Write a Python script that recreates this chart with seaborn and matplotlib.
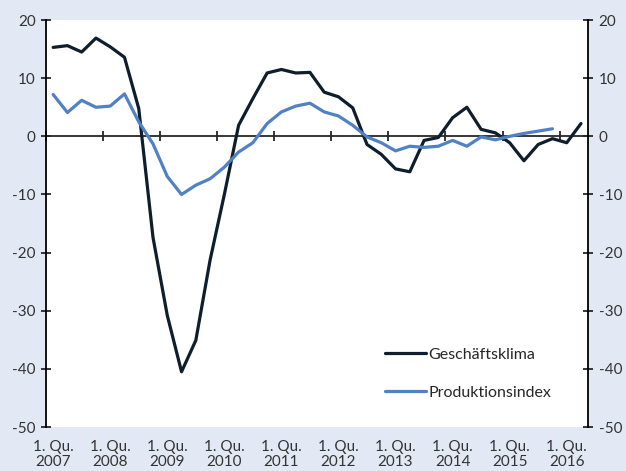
import numpy as np
import pandas as pd
import matplotlib
matplotlib.use("Agg")
import matplotlib.pyplot as plt
import seaborn as sns

# quarterly values, 1. Qu. 2007 - 2. Qu. 2016
years = list(range(2007, 2017))
quarters = [f"{q}. Qu. {y}" for y in years for q in range(1, 5)][:38]

geschaeftsklima = [15.3, 15.6, 14.5, 16.9, 15.4, 13.6, 4.8, -17.4, -30.8, -40.5,
                   -35.1, -21.3, -10.0, 1.9, 6.5, 10.9, 11.5, 10.9, 11.0, 7.6,
                   6.8, 4.9, -1.4, -3.1, -5.6, -6.1, -0.7, -0.2, 3.2, 5.0,
                   1.2, 0.6, -1.1, -4.2, -1.4, -0.4, -1.1, 2.2]
produktionsindex = [7.2, 4.1, 6.2, 5.0, 5.2, 7.3, 2.5, -1.3, -6.9, -10.0,
                    -8.4, -7.3, -5.3, -2.7, -1.1, 2.2, 4.2, 5.2, 5.7, 4.2,
                    3.5, 1.9, -0.1, -1.1, -2.5, -1.7, -1.9, -1.7, -0.7, -1.7,
                    -0.1, -0.6, 0.0, 0.5, 0.9, 1.3]

tick_labels = [f"1. Qu.\n{y}" for y in years]
y_ticks = [20, 10, 0, -10, -20, -30, -40, -50]

df = pd.concat([
    pd.DataFrame({"idx": range(len(geschaeftsklima)), "wert": geschaeftsklima,
                  "reihe": "Geschäftsklima"}),
    pd.DataFrame({"idx": range(len(produktionsindex)), "wert": produktionsindex,
                  "reihe": "Produktionsindex"}),
])

bg = "#e3e9f4"
farben = {"Geschäftsklima": "#0e1e2c", "Produktionsindex": "#4f81c4"}

sns.set_style("white")
plt.rcParams["font.family"] = ["Lato", "DejaVu Sans"]

fig = plt.figure(figsize=(6.26, 4.71), dpi=100, facecolor=bg)
ax = fig.add_axes([0.0735, 0.0934, 0.866, 0.864])
ax.set_facecolor("white")

sns.lineplot(data=df, x="idx", y="wert", hue="reihe", palette=farben,
             linewidth=2.3, ax=ax)

n = len(quarters)
ax.set_xlim(-0.5, n - 0.5)
ax.set_ylim(-50, 20)
ax.set_xlabel("")
ax.set_ylabel("")

# labels at the first quarter of every year
ax.set_xticks(range(0, n, 4))
ax.set_xticklabels(tick_labels, fontsize=11, color="#333333", linespacing=1.1)
ax.tick_params(axis="x", length=0, pad=9)

ax.set_yticks(y_ticks)
ax.set_yticklabels([str(v) for v in y_ticks])
ax.tick_params(axis="y", direction="inout", length=7, width=1.3, labelsize=11,
               labelcolor="#333333", left=True, right=True, labelright=True, pad=4)

for s in ["top", "bottom"]:
    ax.spines[s].set_visible(False)
for s in ["left", "right"]:
    ax.spines[s].set_color("black")
    ax.spines[s].set_linewidth(1.3)

# zero line with year separators
nulllinie = ax.secondary_xaxis(0, transform=ax.transData)
nulllinie.set_xticks(np.arange(-0.5, n, 4))
nulllinie.set_xticklabels([])
nulllinie.tick_params(direction="inout", length=7, width=1.3)
nulllinie.spines["bottom"].set_linewidth(1.3)

ax.legend(loc="upper left", bbox_to_anchor=(0.61, 0.215), frameon=False,
          handlelength=2.6, handletextpad=0.15, labelspacing=1.5,
          fontsize=11.5, borderpad=0)

fig.savefig("out.png", dpi=100, facecolor=bg)
